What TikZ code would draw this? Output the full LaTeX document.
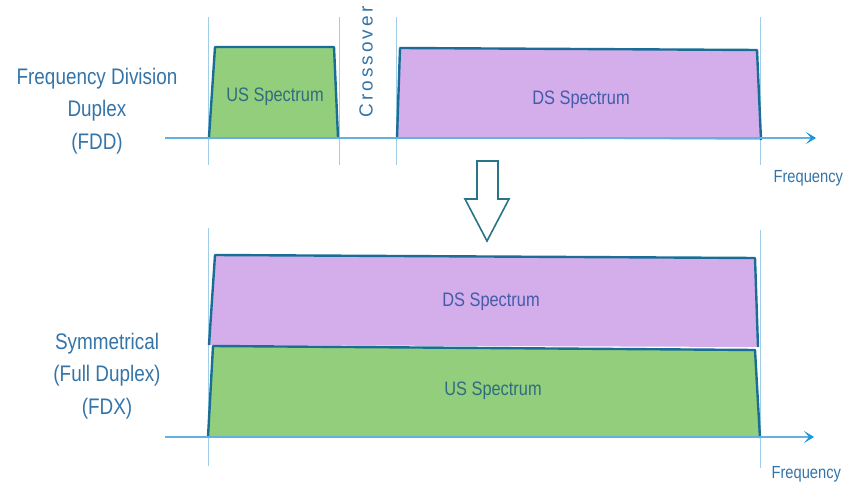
\documentclass[tikz,border=0pt]{standalone}
\usepackage{fontspec}
\setmainfont{Liberation Sans}[FakeStretch=0.84]
\newfontfamily\crossfont{Liberation Sans}[LetterSpace=16]
\usetikzlibrary{arrows.meta}
\definecolor{gfill}{RGB}{146,206,124}
\definecolor{pfill}{RGB}{212,174,234}
\definecolor{edge}{RGB}{26,110,150}
\definecolor{lbl}{RGB}{52,116,168}
\definecolor{gtxt}{RGB}{48,108,128}
\definecolor{ptxt}{RGB}{66,92,168}
\definecolor{axisc}{RGB}{100,176,222}
\definecolor{tipc}{RGB}{24,150,222}
\definecolor{vline}{RGB}{160,206,232}
\definecolor{harrow}{RGB}{40,116,136}
\tikzset{
  band/.style={draw=edge,line width=2.4pt,line join=round},
  axisline/.style={draw=axisc,line width=1.6pt,-{Stealth[length=10pt,width=12pt,inset=5pt,color=tipc]}},
  guide/.style={draw=vline,line width=1pt},
  side/.style={text=lbl,font=\fontsize{22.5}{32.5}\selectfont,align=center},
  spec/.style={font=\fontsize{19.5}{22}\selectfont},
  freq/.style={text=lbl,font=\fontsize{17.5}{20}\selectfont,anchor=west}
}
\begin{document}
\begin{tikzpicture}[x=1pt,y=-1pt]
\useasboundingbox (0,0) rectangle (843,486);
% ---------- top: FDD ----------
\draw[guide] (208,17) -- (208,165);
\draw[guide] (339,17) -- (339,165);
\draw[guide] (396,17) -- (396,165);
\draw[guide] (760,17) -- (760,165);
\fill[gfill] (209,137) -- (215,47) -- (334,47) -- (338,137) -- cycle;
\draw[band] (209,137) -- (215,47) -- (334,47) -- (338,137);
\fill[pfill] (397,138) -- (400,48) -- (757,50) -- (761,140) -- cycle;
\draw[band] (397,138) -- (400,48) -- (757,50) -- (761,140);
\coordinate (a1s) at (165,138);
\coordinate (a1e) at (816,138);
\draw[axisline] (a1s) -- (a1e);
\node[spec,text=gtxt] (us1) at (275,97) {US Spectrum};
\node[spec,text=ptxt] (ds1) at (581,100) {DS Spectrum};
\node[text=lbl,rotate=90,font=\crossfont\fontsize{19}{22}\selectfont] (cross) at (366,62) {Crossover};
\node[side] (fdd) at (97,111) {Frequency Division\\Duplex\\(FDD)};
\node[freq] (f1) at (770,178) {Frequency};
% ---------- hollow arrow ----------
\draw[draw=harrow,fill=white,line width=1.6pt,line join=miter]
  (477,161) -- (498,161) -- (498,199) -- (509,199) -- (487,241) -- (465,199) -- (477,199) -- cycle;
% ---------- bottom: FDX ----------
\draw[guide] (208,228) -- (208,466);
\draw[guide] (760,230) -- (760,468);
\fill[gfill] (208,437) -- (213,346) -- (755,350) -- (760,438) -- cycle;
\fill[pfill] (209,345) -- (215,255) -- (755,258) -- (758,347) -- cycle;
\draw[band] (209,345) -- (215,255) -- (755,258) -- (758,347);
\draw[band] (208,437) -- (213,346) -- (755,350) -- (760,438);
\coordinate (a2s) at (165,437);
\coordinate (a2e) at (814,437);
\draw[axisline] (a2s) -- (a2e);
\node[spec,text=ptxt] (ds2) at (491,302) {DS Spectrum};
\node[spec,text=gtxt] (us2) at (493,391) {US Spectrum};
\node[side] (fdx) at (107,376) {Symmetrical\\(Full Duplex)\\(FDX)};
\node[freq] (f2) at (768,474) {Frequency};
\end{tikzpicture}
\end{document}
